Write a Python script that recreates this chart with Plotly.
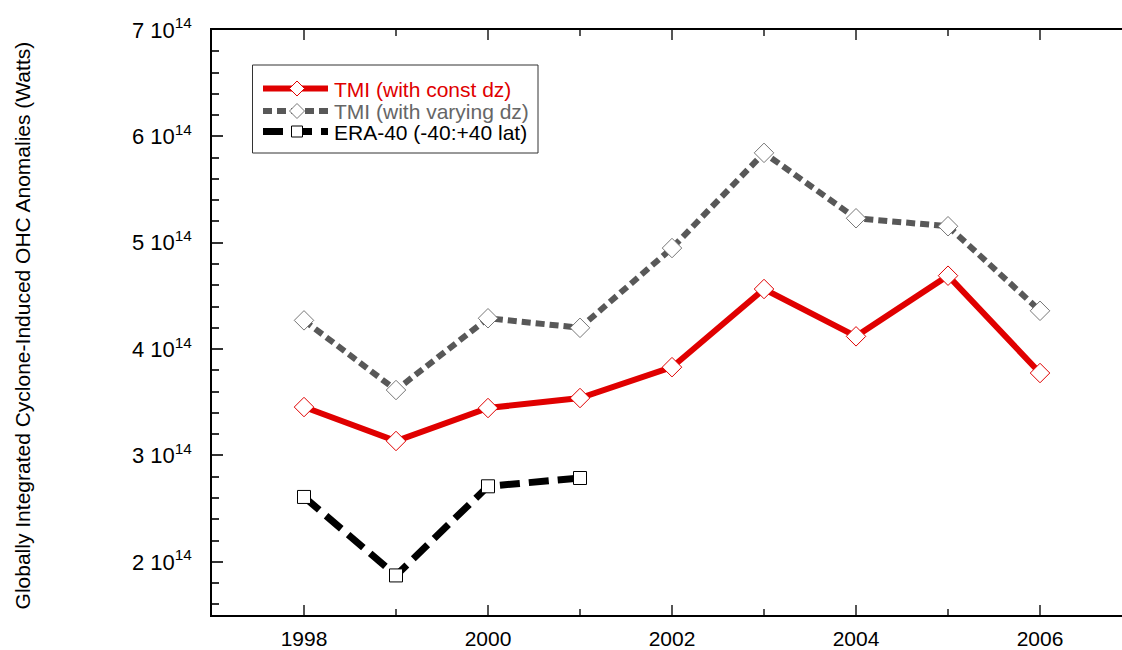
import plotly.graph_objects as go

# Yearly cyclone-induced ocean heat content anomalies (units of 1e14 W)
years = [1998, 1999, 2000, 2001, 2002, 2003, 2004, 2005, 2006]
tmi_const = [3.455, 3.136, 3.446, 3.54, 3.83, 4.565, 4.12, 4.69, 3.775]
tmi_varying = [4.27, 3.615, 4.29, 4.20, 4.95, 5.845, 5.23, 5.155, 4.36]
era_years = [1998, 1999, 2000, 2001]
era40 = [2.61, 1.872, 2.71, 2.788]

series_names = ["TMI (with const dz)", "TMI (with varying dz)", "ERA-40 (-40:+40 lat)"]

y_major = [2, 3, 4, 5, 6, 7]
y_labels = [f"{v} 10<sup>14</sup>" for v in y_major]
x_major = [1998, 2000, 2002, 2004, 2006]

SCALE = 1e14
RED = "#e00000"
GRAY = "#585858"
GRAY_TEXT = "#666666"

# plot-area geometry in pixels (used to place the hand-drawn legend)
W, H = 1122, 650
ML, MR, MT, MB = 212, 0, 30, 35
PW, PH = W - ML - MR, H - MT - MB


def px(x):
    return (x - ML) / PW


def py(y):
    return (H - MB - y) / PH


styles = [
    dict(line=dict(color=RED, width=6),
         marker=dict(symbol="diamond", size=15, color="white", line=dict(color=RED, width=1))),
    dict(line=dict(color=GRAY, width=6, dash="9px,5px"),
         marker=dict(symbol="diamond", size=15, color="white", line=dict(color="#777777", width=1))),
    dict(line=dict(color="black", width=7, dash="20px,9px"),
         marker=dict(symbol="square", size=13, color="white", line=dict(color="black", width=1))),
]

fig = go.Figure()
for (xs, ys), name, st in zip(
    [(years, tmi_const), (years, tmi_varying), (era_years, era40)], series_names, styles
):
    fig.add_trace(go.Scatter(
        x=xs, y=[v * SCALE for v in ys], mode="lines+markers", name=name,
        line=st["line"], marker=st["marker"],
    ))

fig.update_layout(
    width=W, height=H,
    margin=dict(l=ML, r=MR, t=MT, b=MB, autoexpand=False),
    paper_bgcolor="white", plot_bgcolor="white",
    font=dict(family="Liberation Sans, Arial, sans-serif", color="black"),
    showlegend=False,
)

fig.update_xaxes(
    range=[1997, 2006.891], automargin=False,
    tickmode="array", tickvals=x_major, ticktext=[str(v) for v in x_major],
    ticks="inside", ticklen=10, tickwidth=1.5, tickcolor="#555555",
    minor=dict(tickmode="array", tickvals=[1997, 1999, 2001, 2003, 2005],
               ticks="inside", ticklen=6, tickwidth=1.5, tickcolor="#555555"),
    showline=True, linecolor="black", linewidth=1.5, mirror="ticks",
    showgrid=False, zeroline=False,
    tickfont=dict(size=21), ticklabelstandoff=4,
)

fig.update_yaxes(
    range=[1.5 * SCALE, 7 * SCALE], automargin=False,
    tickmode="array", tickvals=[v * SCALE for v in y_major], ticktext=y_labels,
    ticks="inside", ticklen=11, tickwidth=1.5, tickcolor="#333333",
    minor=dict(tickmode="array",
               tickvals=[(1.6 + 0.2 * i) * SCALE for i in range(27)],
               ticks="inside", ticklen=7, tickwidth=1.5, tickcolor="#333333"),
    showline=True, linecolor="black", linewidth=1.5,
    showgrid=False, zeroline=False,
    tickfont=dict(size=22), ticklabelstandoff=14,
)

fig.add_annotation(
    text="Globally Integrated Cyclone-Induced OHC Anomalies (Watts)",
    xref="paper", yref="paper", x=px(22), y=0.495,
    textangle=-90, showarrow=False, font=dict(size=21),
    xanchor="center", yanchor="middle",
)

# legend: framed box with a line sample, centred marker and coloured label per series
fig.add_shape(type="rect", xref="paper", yref="paper",
              x0=px(252.5), x1=px(538), y0=py(65), y1=py(153),
              line=dict(color="#333333", width=1), fillcolor="white", layer="above")

row_y = [88.5, 111, 131.5]
text_colors = [RED, GRAY_TEXT, "black"]
sx0, sx1, sxm = 263, 328, 297
for yrow, name, st, tcol in zip(row_y, series_names, styles, text_colors):
    ln = st["line"]
    fig.add_shape(type="line", xref="paper", yref="paper",
                  x0=px(sx0), x1=px(sx1), y0=py(yrow), y1=py(yrow),
                  line=dict(color=ln["color"], width=ln["width"], dash=ln.get("dash", "solid")),
                  layer="above")
    mk = st["marker"]
    r = mk["size"] / 2
    cx, cy = px(sxm), py(yrow)
    dx, dy = r / PW, r / PH
    if mk["symbol"] == "diamond":
        path = (f"M {cx},{cy + dy} L {cx + dx},{cy} L {cx},{cy - dy} "
                f"L {cx - dx},{cy} Z")
        fig.add_shape(type="path", xref="paper", yref="paper", path=path,
                      fillcolor="white", line=dict(color=mk["line"]["color"], width=1),
                      layer="above")
    else:
        dx, dy = (r - 1) / PW, (r - 1) / PH
        fig.add_shape(type="rect", xref="paper", yref="paper",
                      x0=cx - dx, x1=cx + dx, y0=cy - dy, y1=cy + dy,
                      fillcolor="white", line=dict(color=mk["line"]["color"], width=1),
                      layer="above")
    fig.add_annotation(text=name, xref="paper", yref="paper",
                       x=px(332), y=py(yrow + 1), xanchor="left", yanchor="middle",
                       showarrow=False, font=dict(size=21, color=tcol))

fig.write_html("out.html")
